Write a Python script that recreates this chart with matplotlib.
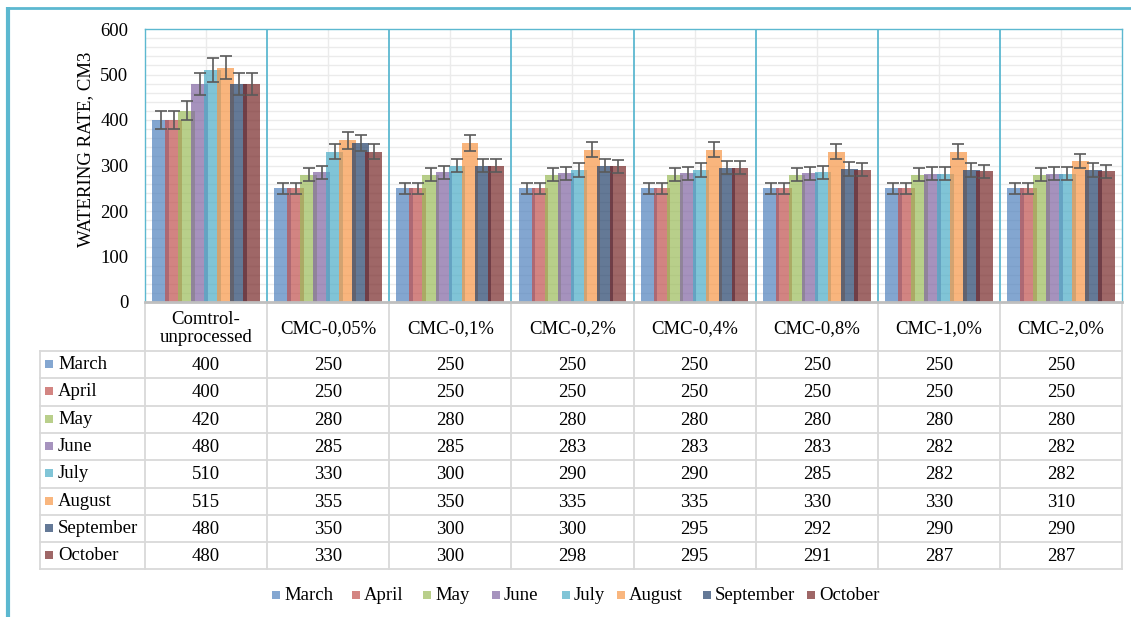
import matplotlib
matplotlib.use("Agg")
import matplotlib.pyplot as plt
from matplotlib.patches import Rectangle
import numpy as np

# ---------------- data ----------------
categories = ["Comtrol-\nunprocessed", "CMC-0,05%", "CMC-0,1%", "CMC-0,2%",
              "CMC-0,4%", "CMC-0,8%", "CMC-1,0%", "CMC-2,0%"]
months = ["March", "April", "May", "June", "July", "August", "September", "October"]
march = [400, 250, 250, 250, 250, 250, 250, 250]
april = [400, 250, 250, 250, 250, 250, 250, 250]
may = [420, 280, 280, 280, 280, 280, 280, 280]
june = [480, 285, 285, 283, 283, 283, 282, 282]
july = [510, 330, 300, 290, 290, 285, 282, 282]
august = [515, 355, 350, 335, 335, 330, 330, 310]
september = [480, 350, 300, 300, 295, 292, 290, 290]
october = [480, 330, 300, 298, 295, 291, 287, 287]
series = [march, april, may, june, july, august, september, october]
error_pct = 0.05
y_ticks = [0, 100, 200, 300, 400, 500, 600]

# ---------------- style ----------------
base_colors = ["#4F81BD", "#C0504D", "#9BBB59", "#8064A2",
               "#4BACC6", "#F79646", "#22406A", "#762626"]
alpha = 0.7
def blend(c, a=alpha):
    r, g, b = matplotlib.colors.to_rgb(c)
    return (1 - a + a * r, 1 - a + a * g, 1 - a + a * b)
solid_colors = [blend(c) for c in base_colors]

FONT = "Liberation Serif"
FS = 13.5
cyan = "#5CB8D0"
gridc = "#EBEBEB"
tablec = "#D9D9D9"

W, H = 1131, 617
fig = plt.figure(figsize=(W / 100, H / 100), dpi=100)

# background pixel-coordinate axes
bg = fig.add_axes([0, 0, 1, 1])
bg.set_xlim(0, W)
bg.set_ylim(H, 0)
bg.axis("off")

# plot area in pixels
PL, PR, PT, PB = 145, 1122, 29, 302
ax = fig.add_axes([PL / W, 1 - PB / H, (PR - PL) / W, (PB - PT) / H])
n = len(categories)
x = np.arange(n)
ax.set_xlim(-0.5, n - 0.5)
ax.set_ylim(0, 600)

# gridlines
for yv in range(20, 600, 20):
    ax.axhline(yv, color=gridc, lw=1, zorder=0)
for xv in x:
    ax.axvline(xv, color=gridc, lw=1, zorder=0)
for xv in x[:-1] + 0.5:
    ax.axvline(xv, color=cyan, lw=1.3, zorder=1)

# bars
step = 0.1065
width = 0.136
for i, (vals, col) in enumerate(zip(series, base_colors)):
    xs = x + (i - 3.5) * step
    vals = np.array(vals, dtype=float)
    ax.bar(xs, vals, width=width, color=col, alpha=alpha, zorder=2 + i * 0.01,
           linewidth=0)
    ax.errorbar(xs, vals, yerr=vals * error_pct, fmt="none", ecolor="#5A5A5A",
                elinewidth=1.2, capsize=4.2, capthick=1.2, zorder=3)

ax.set_yticks(y_ticks)
ax.set_yticklabels([str(t) for t in y_ticks], fontfamily=FONT, fontsize=FS)
ax.tick_params(axis="y", length=0, pad=12)
ax.set_xticks([])
for s in ["top", "left", "right"]:
    ax.spines[s].set_color(cyan)
    ax.spines[s].set_linewidth(1.0)
ax.spines["bottom"].set_color("#BFBFBF")
ax.spines["bottom"].set_linewidth(2)

fig.text(86 / W, 1 - 149 / H, "WATERING RATE, CM3", rotation=90,
         ha="center", va="center", fontfamily=FONT, fontsize=FS)

# ---------------- outer border ----------------
bg.plot([8, 8], [7, H], color=cyan, lw=3, solid_capstyle="butt")
bg.plot([7, W], [8, 8], color=cyan, lw=2, solid_capstyle="butt")

# ---------------- data table ----------------
col_w = (PR - PL) / n
col_edges = [PL + j * col_w for j in range(n + 1)]
TL = 40
head_bot = 351
row_h = 27.3
rows_bot = head_bot + row_h * len(months)

for xe in col_edges:
    bg.plot([xe, xe], [PB + 1, rows_bot], color=tablec, lw=1.3)
bg.plot([TL, TL], [head_bot, rows_bot], color=tablec, lw=1.3)
for k in range(len(months) + 1):
    yy = head_bot + k * row_h
    bg.plot([TL, PR], [yy, yy], color=tablec, lw=1.3)

for j, name in enumerate(categories):
    cx = PL + (j + 0.5) * col_w
    bg.text(cx, (PB + head_bot) / 2 + 2, name, ha="center", va="center",
            fontfamily=FONT, fontsize=FS, linespacing=1.02)

for k, (m, vals) in enumerate(zip(months, series)):
    cy = head_bot + (k + 0.5) * row_h
    bg.add_patch(Rectangle((45, cy - 4.5), 8, 8, color=solid_colors[k], lw=0))
    bg.text(58, cy, m, ha="left", va="center", fontfamily=FONT, fontsize=FS)
    for j, v in enumerate(vals):
        cx = PL + (j + 0.5) * col_w
        bg.text(cx, cy + 1, str(v), ha="center", va="center",
                fontfamily=FONT, fontsize=FS)

# ---------------- legend ----------------
leg_x = [272, 352, 423, 492, 562, 617, 703, 807]
leg_y = 595
for k, m in enumerate(months):
    bg.add_patch(Rectangle((leg_x[k], leg_y - 4.5), 8, 8, color=solid_colors[k], lw=0))
    bg.text(leg_x[k] + 12, leg_y, m, ha="left", va="center",
            fontfamily=FONT, fontsize=FS)

fig.savefig("out.png", dpi=100)
